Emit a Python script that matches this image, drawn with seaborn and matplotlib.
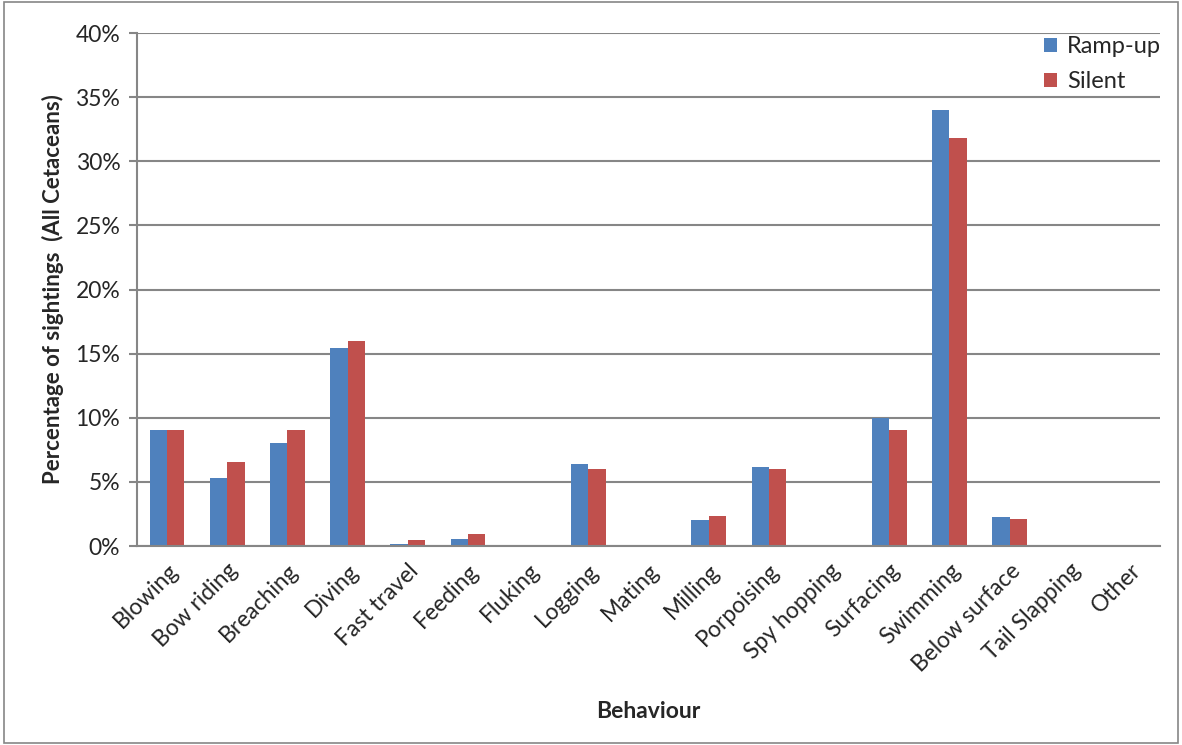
import matplotlib
matplotlib.use("Agg")
import matplotlib.pyplot as plt
from matplotlib.patches import Rectangle
from matplotlib.ticker import FixedLocator, PercentFormatter
import pandas as pd
import seaborn as sns

behaviours = ["Blowing", "Bow riding", "Breaching", "Diving", "Fast travel",
              "Feeding", "Fluking", "Logging", "Mating", "Milling",
              "Porpoising", "Spy hopping", "Surfacing", "Swimming",
              "Below surface", "Tail Slapping", "Other"]
ramp_up = [9.05, 5.3, 8.05, 15.45, 0.12, 0.54, 0.0, 6.43, 0.0, 2.02,
           6.17, 0.0, 9.96, 34.0, 2.3, 0.0, 0.0]
silent = [9.05, 6.56, 9.05, 16.0, 0.44, 0.93, 0.0, 6.02, 0.0, 2.33,
          6.02, 0.0, 9.03, 31.85, 2.1, 0.0, 0.0]
series_names = ["Ramp-up", "Silent"]
series_colors = ["#4F81BD", "#C0504D"]

df = pd.DataFrame({
    "Behaviour": behaviours * 2,
    "Percent": ramp_up + silent,
    "Series": [series_names[0]] * len(behaviours) + [series_names[1]] * len(behaviours),
})

sns.set_theme(style="white")
plt.rcParams["font.family"] = ["Lato", "DejaVu Sans"]

fig = plt.figure(figsize=(11.82, 7.45), dpi=100)
ax = fig.add_axes([0.1159, 0.2671, 0.8655, 0.6886])

sns.barplot(data=df, x="Behaviour", y="Percent", hue="Series",
            palette=series_colors, width=0.575, ax=ax,
            order=behaviours, hue_order=series_names,
            edgecolor="none", linewidth=0, errorbar=None, saturation=1)

grid_color = "#868686"
tick_fs = 16.5
ax.set_ylim(0, 40)
ax.set_xlim(-0.5, len(behaviours) - 0.5)
ax.yaxis.set_major_locator(FixedLocator(range(0, 41, 5)))
ax.yaxis.set_major_formatter(PercentFormatter(decimals=0))
ax.grid(axis="y", color=grid_color, linewidth=1.5)
ax.set_axisbelow(True)

# Category boundary ticks on the x axis, labels at the centres
ax.set_xticks([i - 0.5 for i in range(len(behaviours) + 1)], minor=True)
ax.tick_params(axis="x", which="minor", length=6, width=1.5, color=grid_color, direction="out")
ax.tick_params(axis="x", which="major", length=0, labelsize=tick_fs, pad=10)
ax.tick_params(axis="y", which="major", length=6, width=1.5, color=grid_color,
               direction="out", left=True, labelsize=tick_fs, pad=6)
for lbl in ax.get_xticklabels():
    lbl.set_rotation(45)
    lbl.set_ha("right")
    lbl.set_rotation_mode("anchor")

for side in ["top", "right"]:
    ax.spines[side].set_visible(False)
for side in ["left", "bottom"]:
    ax.spines[side].set_color(grid_color)
    ax.spines[side].set_linewidth(1.5)

ax.set_xlabel("Behaviour", fontsize=16.5, fontweight="bold", labelpad=18)
ax.set_ylabel("Percentage of sightings  (All Cetaceans)", fontsize=16,
              fontweight="bold", labelpad=8)

leg = ax.legend(loc="upper right", bbox_to_anchor=(1.022, 1.035), frameon=False,
                fontsize=17, handlelength=0.55, handleheight=0.55,
                handletextpad=0.45, labelspacing=0.6)

fig.patches.append(Rectangle((0.003, 0.003), 0.994, 0.994, transform=fig.transFigure,
                             fill=False, edgecolor=grid_color, linewidth=1.2))

fig.savefig("out.png", dpi=100, facecolor="white")
